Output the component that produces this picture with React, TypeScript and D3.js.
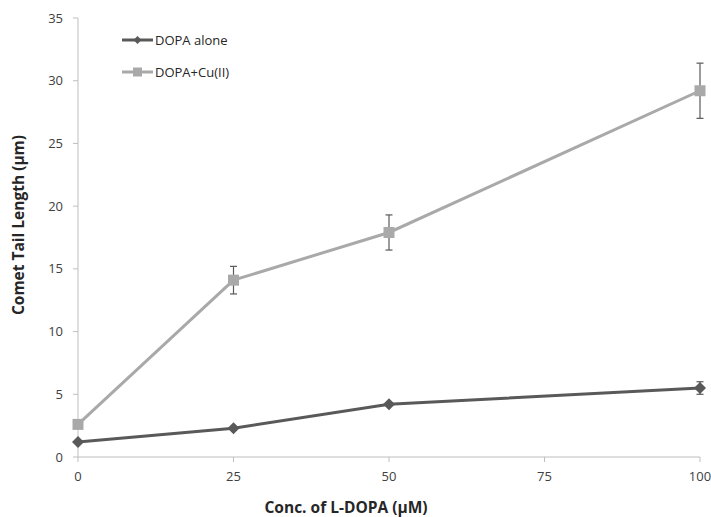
import React from "react";
import * as d3 from "d3";

const concentrations = [0, 25, 50, 100];
const dopaAlone = [1.2, 2.3, 4.2, 5.5];
const dopaAloneErr = [0, 0, 0, 0.5];
const dopaCu = [2.6, 14.1, 17.9, 29.2];
const dopaCuErr = [0, 1.1, 1.4, 2.2];
const xTicks = [0, 25, 50, 75, 100];
const yTicks = [0, 5, 10, 15, 20, 25, 30, 35];

const W = 711;
const H = 517;
const margin = { left: 78, right: 11, top: 18, bottom: 60 };

export default function App() {
  const x = d3.scaleLinear().domain([0, 100]).range([margin.left, W - margin.right]);
  const y = d3.scaleLinear().domain([0, 35]).range([H - margin.bottom, margin.top]);
  const line = d3
    .line<[number, number]>()
    .x((d) => x(d[0]))
    .y((d) => y(d[1]));

  const font = "'Open Sans', 'Liberation Sans', sans-serif";
  const axisColor = "#bfbfbf";
  const darkC = "#595959";
  const lightC = "#a9a9a9";

  const series = [
    { name: "DOPA alone", values: dopaAlone, err: dopaAloneErr, color: darkC, marker: "diamond" },
    { name: "DOPA+Cu(II)", values: dopaCu, err: dopaCuErr, color: lightC, marker: "square" },
  ];

  const marker = (kind: string, cx: number, cy: number, color: string, key: string) =>
    kind === "diamond" ? (
      <path key={key} d={`M${cx},${cy - 6}L${cx + 6},${cy}L${cx},${cy + 6}L${cx - 6},${cy}Z`} fill={color} />
    ) : (
      <rect key={key} x={cx - 5.5} y={cy - 5.5} width={11} height={11} fill={color} />
    );

  return (
    <svg width={W} height={H} style={{ position: "absolute", left: 0, top: 0 }}>
      <rect width={W} height={H} fill="#fff" />
      {/* axes */}
      <line x1={x(0)} x2={x(0)} y1={y(0)} y2={y(35)} stroke={axisColor} />
      <line x1={x(0)} x2={x(100)} y1={y(0)} y2={y(0)} stroke={axisColor} />
      {yTicks.map((t) => (
        <g key={"y" + t}>
          <line x1={x(0) - 5} x2={x(0)} y1={y(t)} y2={y(t)} stroke={axisColor} />
          <text x={x(0) - 15} y={y(t)} dy="0.35em" textAnchor="end" fontSize={13} fill="#404040" fontFamily={font}>
            {t}
          </text>
        </g>
      ))}
      {xTicks.map((t) => (
        <g key={"x" + t}>
          <line x1={x(t)} x2={x(t)} y1={y(0)} y2={y(0) + 5} stroke={axisColor} />
          <text x={x(t)} y={y(0) + 24} textAnchor="middle" fontSize={13} fill="#404040" fontFamily={font}>
            {t}
          </text>
        </g>
      ))}
      <text x={346} y={513} textAnchor="middle" fontSize={15.5} fontWeight="bold" fill="#262626" fontFamily={font}>
        Conc. of L-DOPA (µM)
      </text>
      <text
        transform={`translate(24,225) rotate(-90)`}
        textAnchor="middle"
        fontSize={15.5}
        fontWeight="bold"
        fill="#262626"
        fontFamily={font}
      >
        Comet Tail Length (µm)
      </text>
      {/* series */}
      {series.map((s) => {
        const pts = concentrations.map((c, i) => [c, s.values[i]] as [number, number]);
        return (
          <g key={s.name}>
            <path d={line(pts) || ""} fill="none" stroke={s.color} strokeWidth={3} />
            {pts.map((p, i) =>
              s.err[i] > 0 ? (
                <g key={"e" + i} stroke="#595959" strokeWidth={1.2}>
                  <line x1={x(p[0])} x2={x(p[0])} y1={y(p[1] - s.err[i])} y2={y(p[1] + s.err[i])} />
                  <line x1={x(p[0]) - 3.5} x2={x(p[0]) + 3.5} y1={y(p[1] - s.err[i])} y2={y(p[1] - s.err[i])} />
                  <line x1={x(p[0]) - 3.5} x2={x(p[0]) + 3.5} y1={y(p[1] + s.err[i])} y2={y(p[1] + s.err[i])} />
                </g>
              ) : null
            )}
            {pts.map((p, i) => marker(s.marker, x(p[0]), y(p[1]), s.color, "m" + i))}
          </g>
        );
      })}
      {/* legend */}
      {series.map((s, i) => {
        const ly = 40 + i * 32;
        return (
          <g key={"lg" + i}>
            <line x1={122} x2={153} y1={ly} y2={ly} stroke={s.color} strokeWidth={3} />
            {s.marker === "diamond" ? (
              <path d={`M137.5,${ly - 4}L141.5,${ly}L137.5,${ly + 4}L133.5,${ly}Z`} fill={s.color} />
            ) : (
              <rect x={133} y={ly - 4.5} width={9} height={9} fill={s.color} />
            )}
            <text x={155} y={ly} dy="0.35em" fontSize={13} fill="#262626" fontFamily={font}>
              {s.name}
            </text>
          </g>
        );
      })}
    </svg>
  );
}
